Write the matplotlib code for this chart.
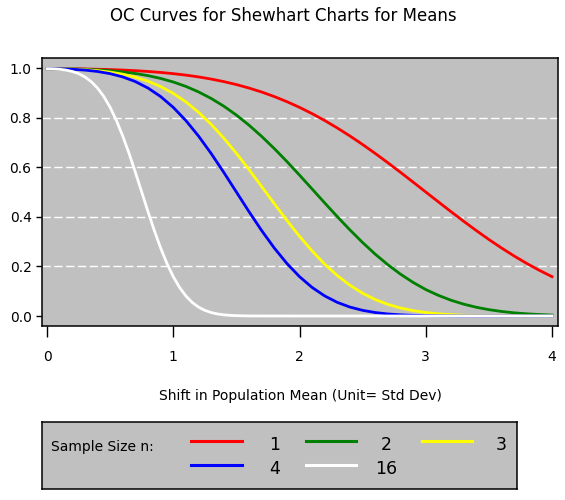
import matplotlib
matplotlib.use("Agg")
import matplotlib.pyplot as plt

# shift in process mean (std dev units)
shift_a = [0.0, 0.1, 0.2, 0.3, 0.4, 0.5, 0.6, 0.7, 0.8, 0.9, 1.0,
           1.1, 1.2, 1.3, 1.4, 1.5, 1.6, 1.7, 1.8, 1.9, 2.0,
           2.1, 2.2, 2.3, 2.4, 2.5, 2.6, 2.7, 2.8, 2.9, 3.0,
           3.1, 3.2, 3.3, 3.4, 3.5, 3.6, 3.7, 3.8, 3.9, 4.0]
shift_16 = [0.0, 0.05, 0.10, 0.15, 0.20, 0.25, 0.30, 0.35, 0.40, 0.45, 0.50,
            0.55, 0.60, 0.65, 0.70, 0.75, 0.80, 0.85, 0.90, 0.95, 1.00,
            1.05, 1.10, 1.15, 1.20, 1.25, 1.30, 1.35, 1.40, 1.45, 1.50,
            1.60, 1.70, 2.0, 3.0, 4.0]

# probability of acceptance
beta_n1 = [0.9973, 0.9972, 0.9968, 0.9961, 0.9950, 0.9936, 0.9916, 0.9892, 0.9860, 0.9821, 0.9772,
           0.9713, 0.9641, 0.9554, 0.9452, 0.9332, 0.9192, 0.9032, 0.8849, 0.8643, 0.8413,
           0.8159, 0.7881, 0.7580, 0.7257, 0.6915, 0.6554, 0.6179, 0.5793, 0.5398, 0.5000,
           0.4602, 0.4207, 0.3821, 0.3446, 0.3085, 0.2743, 0.2420, 0.2119, 0.1841, 0.1587]
beta_n2 = [0.9973, 0.9970, 0.9962, 0.9947, 0.9924, 0.9890, 0.9842, 0.9778, 0.9692, 0.9579, 0.9436,
           0.9257, 0.9037, 0.8773, 0.8462, 0.8102, 0.7695, 0.7243, 0.6752, 0.6229, 0.5681,
           0.5120, 0.4557, 0.4003, 0.3468, 0.2962, 0.2492, 0.2067, 0.1686, 0.1354, 0.1067,
           0.0832, 0.0636, 0.0478, 0.0353, 0.0256, 0.0183, 0.0128, 0.0088, 0.0059, 0.0039]
beta_n3 = [0.9973, 0.9969, 0.9956, 0.9932, 0.9894, 0.9835, 0.9750, 0.9631, 0.9468, 0.9252, 0.8976,
           0.8632, 0.8216, 0.7729, 0.7174, 0.6561, 0.5905, 0.5221, 0.4532, 0.3856, 0.3213,
           0.2620, 0.2088, 0.1626, 0.1237, 0.0917, 0.0664, 0.0468, 0.0322, 0.0216, 0.0140,
           0.0089, 0.0055, 0.0033, 0.0019, 0.0011, 0.0006, 0.0003, 0.0002, 0.0001, 0.0001]
beta_n4 = [0.9973, 0.9968, 0.9950, 0.9916, 0.9860, 0.9772, 0.9641, 0.9452, 0.9192, 0.8849, 0.8413,
           0.7881, 0.7257, 0.6554, 0.5793, 0.5000, 0.4207, 0.3446, 0.2743, 0.2119, 0.1587,
           0.1151, 0.0808, 0.0548, 0.0359, 0.0228, 0.0139, 0.0082, 0.0047, 0.0026, 0.0013,
           0.0007, 0.0003, 0.0002, 0.0001, 0.0001, 0.0000, 0.0000, 0.0000, 0.0000, 0.0000]
beta_n16 = [0.9973, 0.9968, 0.9950, 0.9916, 0.9860, 0.9772, 0.9641, 0.9452, 0.9192, 0.8849, 0.8413,
            0.7881, 0.7257, 0.6554, 0.5793, 0.5000, 0.4207, 0.3446, 0.2743, 0.2119, 0.1587,
            0.1151, 0.0808, 0.0548, 0.0359, 0.0228, 0.0139, 0.0082, 0.0047, 0.0026, 0.0013,
            0.0003, 0.0001, 0.0000, 0.0000, 0.0000]

sample_sizes = ["1", "2", "3", "4", "16"]
series_x = [shift_a, shift_a, shift_a, shift_a, shift_16]
series_y = [beta_n1, beta_n2, beta_n3, beta_n4, beta_n16]
colors = ["#ff0000", "#008000", "#ffff00", "#0000ff", "#ffffff"]

y_ticks = [0.0, 0.2, 0.4, 0.6, 0.8, 1.0]
y_tick_labels = ["0.0", "0.2", "0.4", "0.6", "0.8", "1.0"]
x_ticks = [0, 1, 2, 3, 4]
x_tick_labels = ["0", "1", "2", "3", "4"]

GRAY = "#c0c0c0"
W, H = 565, 500

fig = plt.figure(figsize=(W / 100, H / 100), dpi=100)
fig.patch.set_facecolor("white")

ax = fig.add_axes([42 / W, 1 - 326 / H, 516 / W, 268 / H])
ax.set_facecolor(GRAY)
ax.set_xlim(-5 / 126.25, 511 / 126.25)
ax.set_ylim(-10 / 248, 1 + 10 / 248)

for yv in [0.2, 0.4, 0.6, 0.8]:
    ax.axhline(yv, color="white", lw=1.0, dashes=(6, 2.5), zorder=1)

for xs, ys, c in zip(series_x, series_y, colors):
    ax.plot(xs, ys, color=c, lw=2.0, zorder=3)

ax.set_xticks(x_ticks)
ax.set_xticklabels(x_tick_labels)
ax.set_yticks(y_ticks)
ax.set_yticklabels(y_tick_labels)
ax.tick_params(axis="x", direction="out", length=8, width=1.0, pad=9, labelsize=10)
ax.tick_params(axis="y", direction="out", length=4.5, width=1.0, pad=3, labelsize=10)
for s in ax.spines.values():
    s.set_linewidth(1.1)
ax.set_xlabel("Shift in Population Mean (Unit= Std Dev)", fontsize=10, labelpad=18)

fig.text(283 / W, 1 - 16 / H, "OC Curves for Shewhart Charts for Means",
         ha="center", va="center", fontsize=12)

# legend panel drawn in pixel coordinates
lg = fig.add_axes([42 / W, 1 - 489 / H, 475 / W, 67 / H])
lg.set_facecolor(GRAY)
lg.set_xlim(42, 517)
lg.set_ylim(489, 422)
lg.set_xticks([])
lg.set_yticks([])
for s in lg.spines.values():
    s.set_linewidth(1.1)
lg.text(51, 447, "Sample Size n:", ha="left", va="center", fontsize=10)

line_x = [(191, 242), (306, 356), (422, 472)]
label_x = [275, 386, 501]
row_y = [441, 465]
for i, (lab, c) in enumerate(zip(sample_sizes, colors)):
    col, row = i % 3, i // 3
    lg.plot(line_x[col], [row_y[row]] * 2, color=c, lw=2.2)
    lg.text(label_x[col], row_y[row] + 4, lab, ha="center", va="center", fontsize=12.5)

fig.savefig("out.png", dpi=100, facecolor="white")
